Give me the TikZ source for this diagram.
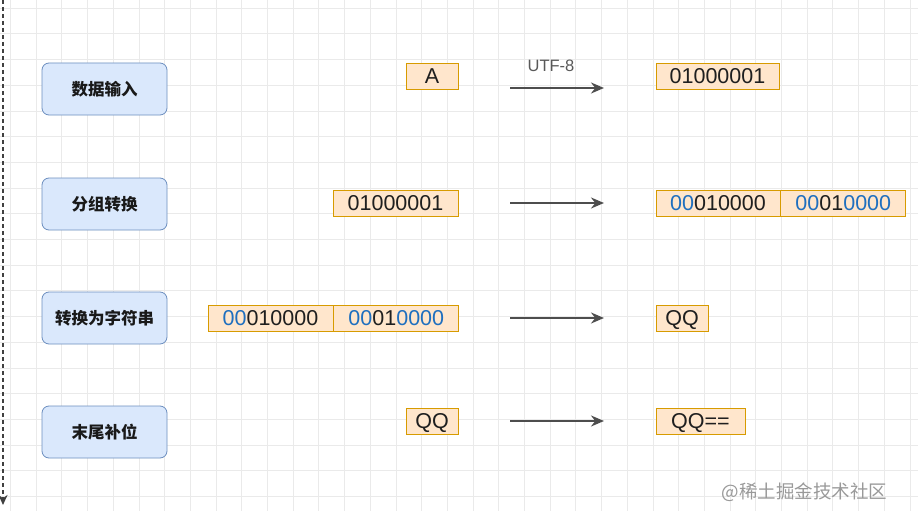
\documentclass[tikz,border=0pt]{standalone}
\usepackage{fontspec}
\setmainfont{Liberation Sans}
\newfontfamily\cjk{Noto Sans CJK SC}
\usetikzlibrary{arrows.meta,positioning}

\definecolor{stepfill}{HTML}{DAE8FC}
\definecolor{stepline}{HTML}{6C8EBF}
\definecolor{bitfill}{HTML}{FFE6CC}
\definecolor{bitline}{HTML}{D79B00}
\definecolor{padblue}{HTML}{1F6FBF}
\definecolor{arrowgray}{HTML}{4D4D4D}
\definecolor{gridgray}{HTML}{EAEAEA}
\newcommand{\padbits}[1]{\textcolor{padblue}{#1}}

\begin{document}
\begin{tikzpicture}[
  x=1pt, y=-1pt,
  >=Stealth,
  stepbox/.style={draw=stepline, fill=stepfill, rounded corners=7pt, line width=0.8pt,
    minimum width=125pt, minimum height=52pt, text=black!90,
    font=\cjk\bfseries\fontsize{16.5}{19}\selectfont},
  bits/.style={draw=bitline, fill=bitfill, line width=0.8pt, inner sep=0pt,
    minimum height=26pt, text height=15.4pt, text depth=0pt,
    text=black!88, font=\fontsize{21.5}{24}\selectfont},
  flow/.style={-{Stealth[length=13pt,width=11pt]}, draw=arrowgray, line width=1.8pt},
  gridline/.style={draw=gridgray, line width=0.6pt}
]
\useasboundingbox (0,0) rectangle (918,511);
\fill[white] (0,0) rectangle (918,511);

% background grid
\foreach \gx in {0,...,35}
  \draw[gridline] ({10.3+25.7*\gx},0) -- ++(0,511);
\foreach \gy in {0,...,19}
  \draw[gridline] (0,{8+25.7*\gy}) -- ++(918,0);

% left dashed axis
\coordinate (axtop) at (3,0);
\coordinate (axend) at (3,505);
\draw[black!75, line width=2.8pt, dash pattern=on 4pt off 3pt, -{Stealth[length=10pt,width=9pt]}] (axtop) -- (axend);

% step boxes
\node[stepbox] (input) at (104.5,89)  {数据输入};
\node[stepbox] (group) at (104.5,204) {分组转换};
\node[stepbox] (tostr) at (104.5,318) {转换为字符串};
\node[stepbox] (tail)  at (104.5,432) {末尾补位};

% Row 1
\node[bits, minimum width=52pt]  (charA) at (432,76)   {A};
\node[bits, minimum width=123pt] (utfA)  at (717.5,76) {01000001};
\coordinate (r1s) at (510,88);
\coordinate (r1e) at (604,88);
\draw[flow] (r1s) -- (r1e);
\node[text=black!65, font=\fontsize{16.5}{19}\selectfont] (utf) at (551,66) {UTF-8};

% Row 2
\node[bits, minimum width=125pt] (octet) at (395.5,203) {01000001};
\node[bits, minimum width=124pt] (sixa) at (718,203) {\padbits{00}010000};
\node[bits, minimum width=125pt, right=0pt of sixa] (sixb) {\padbits{00}01\padbits{0000}};
\coordinate (r2s) at (510,203);
\coordinate (r2e) at (604,203);
\draw[flow] (r2s) -- (r2e);

% Row 3
\node[bits, minimum width=125pt] (outa) at (270.5,318) {\padbits{00}010000};
\node[bits, minimum width=125pt, right=0pt of outa] (outb) {\padbits{00}01\padbits{0000}};
\node[bits, minimum width=52pt] (qq) at (682,318) {QQ};
\coordinate (r3s) at (510,318);
\coordinate (r3e) at (604,318);
\draw[flow] (r3s) -- (r3e);

% Row 4
\node[bits, minimum width=52pt] (qqin)  at (432,421)   {QQ};
\node[bits, minimum width=89pt] (qqpad) at (700.5,421) {QQ==};
\coordinate (r4s) at (510,421);
\coordinate (r4e) at (604,421);
\draw[flow] (r4s) -- (r4e);

% watermark
\node[anchor=east, text=black!40, font=\cjk\fontsize{18.5}{21}\selectfont] (mark) at (891,492) {@稀土掘金技术社区};

\end{tikzpicture}
\end{document}
